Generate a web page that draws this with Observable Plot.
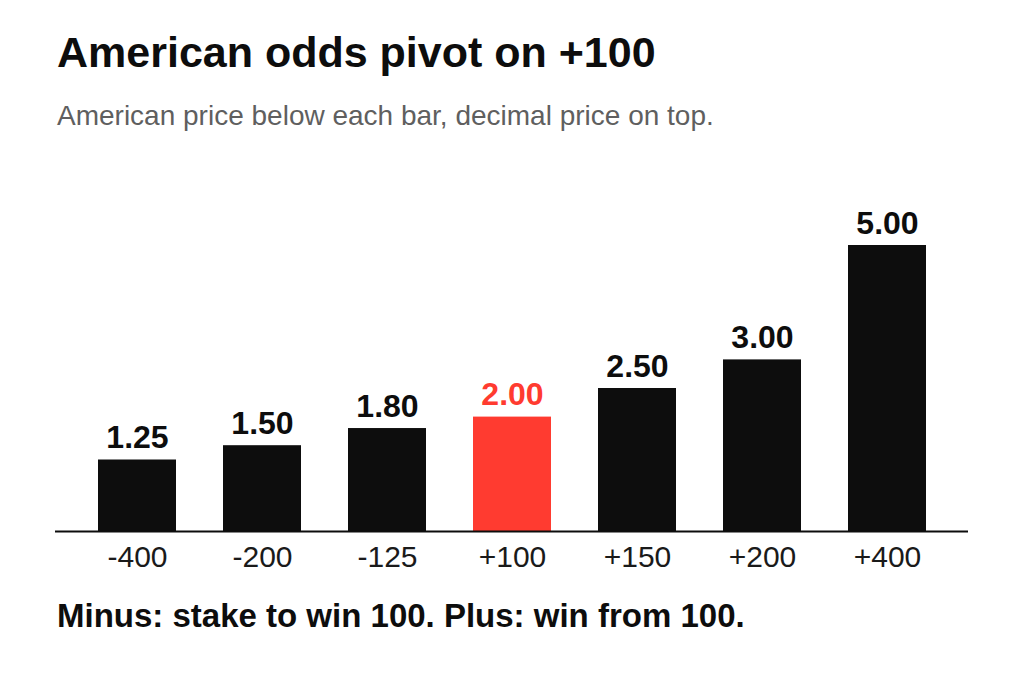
<!DOCTYPE html>
<html>
<head>
<meta charset="utf-8">
<script src="https://cdn.jsdelivr.net/npm/d3@7"></script>
<script src="https://cdn.jsdelivr.net/npm/@observablehq/plot@0.6"></script>
<style>
  html, body { margin: 0; padding: 0; background: #fff; }
  body { width: 1024px; height: 682px; position: relative; overflow: hidden;
         font-family: "Liberation Sans", Arial, Helvetica, sans-serif; }
  #title { position: absolute; left: 57px; top: 31px; font-size: 43px; line-height: 43px;
           font-weight: bold; color: #0d0d0d; white-space: nowrap; }
  #subtitle { position: absolute; left: 57px; top: 102px; font-size: 28px; line-height: 28px;
              color: #5f5f5f; white-space: nowrap; }
  #chart { position: absolute; left: 0; top: 150px; }
  #caption { position: absolute; left: 57px; top: 599px; font-size: 33px; line-height: 33px;
             font-weight: bold; color: #0d0d0d; white-space: nowrap; }
</style>
</head>
<body>
<div id="title">American odds pivot on +100</div>
<div id="subtitle">American price below each bar, decimal price on top.</div>
<div id="chart"></div>
<div id="caption">Minus: stake to win 100. Plus: win from 100.</div>
<script>
const american = ["-400", "-200", "-125", "+100", "+150", "+200", "+400"];
const decimal = [1.25, 1.50, 1.80, 2.00, 2.50, 3.00, 5.00];
const pivot = "+100";

const data = american.map((a, i) => ({american: a, decimal: decimal[i]}));
const isPivot = d => d.american === pivot;

const chart = Plot.plot({
  width: 1024,
  height: 440,
  marginLeft: 55,
  marginRight: 56,
  marginTop: 95,
  marginBottom: 59,
  style: {fontFamily: "'Liberation Sans', Arial, Helvetica, sans-serif", background: "transparent"},
  x: {type: "band", domain: american, paddingInner: 0.376, paddingOuter: 0.34, label: null},
  y: {domain: [0, 5], axis: null},
  marks: [
    Plot.barY(data, {x: "american", y: "decimal", fill: d => isPivot(d) ? "#ff3b30" : "#0d0d0d"}),
    Plot.text(data, {
      x: "american", y: "decimal",
      text: d => d.decimal.toFixed(2),
      fill: d => isPivot(d) ? "#ff3b30" : "#0d0d0d",
      fontSize: 32, fontWeight: "bold",
      lineAnchor: "bottom", dy: -12
    }),
    Plot.ruleY([0], {stroke: "#0d0d0d", strokeWidth: 2}),
    Plot.axisX({tickSize: 0, tickPadding: 14, fontSize: 30, fill: "#1a1a1a", label: null})
  ]
});
document.getElementById("chart").appendChild(chart);
</script>
</body>
</html>
